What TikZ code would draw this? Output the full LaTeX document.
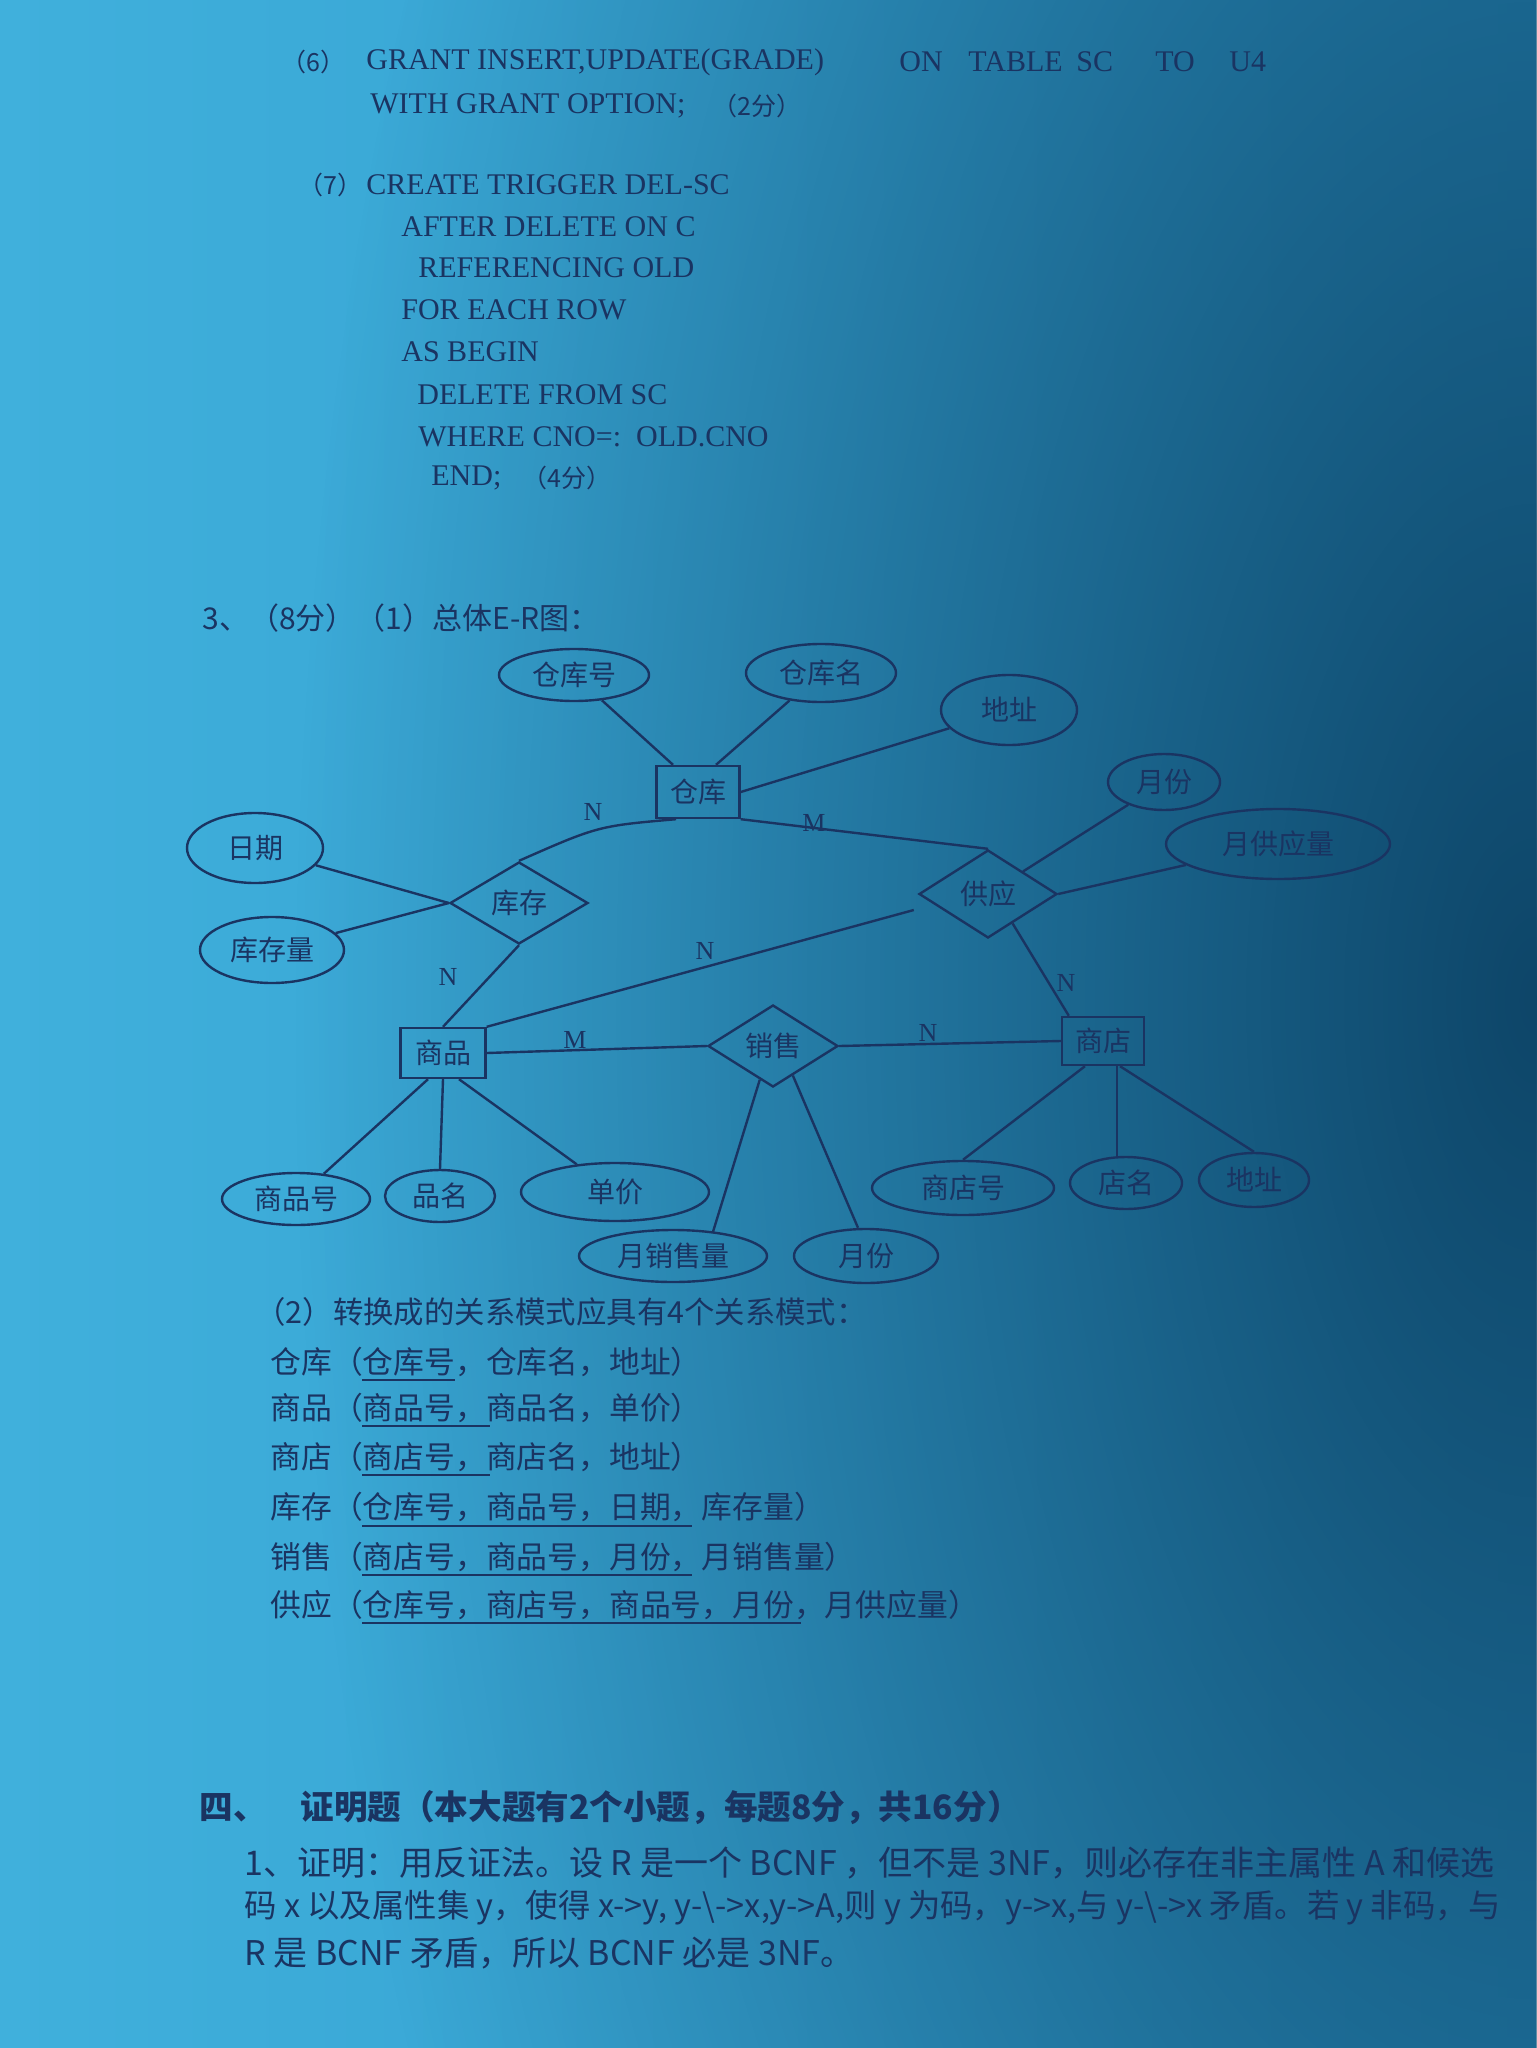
\documentclass[tikz,border=0pt]{standalone}
\usepackage{fontspec}
\setmainfont{Liberation Serif}
\newfontfamily\cjk{Noto Sans CJK SC}
\usetikzlibrary{shapes.geometric,calc,fadings}
\definecolor{bgA}{RGB}{64,176,220}
\definecolor{bgB}{RGB}{44,150,200}
\definecolor{bgC}{RGB}{14,70,105}
\definecolor{ink}{RGB}{26,52,98}
\tikzfading[name=fadeR, inner color=transparent!0, outer color=transparent!100]
\begin{document}
\begin{tikzpicture}[x=0.5pt,y=-0.5pt,
  code/.style={anchor=west, inner sep=0pt, text=ink, font=\fontsize{15}{15}\selectfont},
  cn/.style={anchor=west, inner sep=0pt, text=ink, font=\cjk\fontsize{15.4}{15.4}\selectfont},
  cnsmall/.style={anchor=west, inner sep=0pt, text=ink, font=\cjk\fontsize{12.5}{12.5}\selectfont},
  erlabel/.style={inner sep=0pt, text=ink, font=\cjk\fontsize{14}{14}\selectfont},
  attr/.style={erlabel, ellipse, draw=ink, line width=1.2pt},
  ent/.style={erlabel, rectangle, draw=ink, line width=1.2pt},
  rel/.style={erlabel, diamond, draw=ink, line width=1.2pt},
  card/.style={inner sep=0pt, text=ink, font=\fontsize{13}{13}\selectfont},
  link/.style={draw=ink, line width=1.2pt},
  keyline/.style={draw=ink, line width=1.3pt}]
\useasboundingbox (0,0) rectangle (1536,2048);
% background
\shade[left color=bgA, right color=bgB] (0,0) rectangle (1536,2048);
\fill[bgC, path fading=fadeR] (1536,1000) ellipse [x radius=620pt, y radius=1250pt];

% ---- code part ----
\node[cnsmall] (c1n) at (281,62) {（6）};
\node[code] (c1a) at (366,62) {GRANT INSERT,UPDATE(GRADE)};
\node[code] (c1b) at (899,62) {ON};
\node[code] (c1c) at (968,62) {TABLE};
\node[code] (c1d) at (1076,62) {SC};
\node[code] (c1e) at (1155,62) {TO};
\node[code] (c1f) at (1229,62) {U4};
\node[code] (c2) at (370,106) {WITH GRANT OPTION;};
\node[cnsmall] (c2n) at (712,106) {（2分）};
\node[cnsmall] (c3n) at (298,185) {（7）};
\node[code] (c3) at (366,185) {CREATE TRIGGER DEL-SC};
\node[code] (c4) at (401,227) {AFTER DELETE ON C};
\node[code] (c5) at (418,268) {REFERENCING OLD};
\node[code] (c6) at (401,310) {FOR EACH ROW};
\node[code] (c7) at (401,352) {AS BEGIN};
\node[code] (c8) at (417,395) {DELETE FROM SC};
\node[code] (c9) at (418,437) {WHERE CNO=:\ \ OLD.CNO};
\node[code] (c10) at (431,478) {END;};
\node[cnsmall] (c10n) at (522,478) {（4分）};

% ---- heading ----
\node[cn, font=\cjk\fontsize{15}{15}\selectfont] (h3) at (202,618) {3、（8分）（1）总体E-R图：};

% ---- E-R diagram ----
\node[ent, minimum width=41.5pt, minimum height=26pt] (ck) at (698,792) {仓库};
\node[ent, minimum width=42.5pt, minimum height=25pt] (sp) at (443,1053) {商品};
\node[ent, minimum width=41pt, minimum height=24pt] (sd) at (1103,1041) {商店};
\node[rel, minimum width=69pt, minimum height=41pt] (kc) at (519,903) {库存};
\node[rel, minimum width=69pt, minimum height=44pt] (gy) at (988,894) {供应};
\node[rel, minimum width=65pt, minimum height=41pt] (xs) at (773,1046) {销售};

\node[attr, minimum width=75pt, minimum height=26pt] (ckh) at (574,675) {仓库号};
\node[attr, minimum width=75pt, minimum height=29pt] (ckm) at (821,673) {仓库名};
\node[attr, minimum width=68pt, minimum height=35pt] (dz1) at (1009,710) {地址};
\node[attr, minimum width=56pt, minimum height=28pt] (yf1) at (1164,782) {月份};
\node[attr, minimum width=112pt, minimum height=35pt] (ygyl) at (1278,844) {月供应量};
\node[attr, minimum width=68pt, minimum height=35pt] (rq) at (255,848) {日期};
\node[attr, minimum width=72pt, minimum height=33pt] (kcl) at (272,950) {库存量};
\node[attr, minimum width=74pt, minimum height=26pt] (sph) at (296,1199) {商品号};
\node[attr, minimum width=55pt, minimum height=26pt] (pm) at (440,1196) {品名};
\node[attr, minimum width=94pt, minimum height=29pt] (dj) at (615,1192) {单价};
\node[attr, minimum width=91pt, minimum height=27pt] (sdh) at (963,1188) {商店号};
\node[attr, minimum width=56pt, minimum height=26pt] (dm) at (1126,1183) {店名};
\node[attr, minimum width=55pt, minimum height=27pt] (dz2) at (1254,1180) {地址};
\node[attr, minimum width=94pt, minimum height=26pt] (yxsl) at (673,1256) {月销售量};
\node[attr, minimum width=72pt, minimum height=27pt] (yf2) at (866,1256) {月份};

% connectors
\draw[link] (ckh) -- ($(ck.north)+(-25,0)$);
\draw[link] (ckm) -- ($(ck.north)+(18,0)$);
\draw[link] (ck.east) -- (dz1);
\draw[link] (kc.north) .. controls (598,826) .. ($(ck.south)+(-22,0)$);
\draw[link] (ck.south east) -- (gy.north);
\draw[link] (gy.north east) -- (yf1);
\draw[link] (gy.east) -- (ygyl);
\draw[link] (rq) -- (kc.west);
\draw[link] (kcl) -- (kc.west);
\draw[link] (kc.south) -- (sp.north);
\draw[link] ($(gy.west)+(-4,16)$) -- (sp.north east);
\draw[link] (sp.east) -- (xs.west);
\draw[link] (xs.east) -- (sd.west);
\draw[link] ($(gy.south)!0.35!(gy.east)$) -- ($(sd.north west)+(8,0)$);
\draw[link] ($(sp.south)+(-15,0)$) -- (sph);
\draw[link] (sp.south) -- (pm.north);
\draw[link] ($(sp.south)+(16,0)$) -- (dj);
\draw[link] ($(xs.south)!0.2!(xs.west)$) -- ($(yxsl.north)+(40,3)$);
\draw[link] ($(xs.south)!0.3!(xs.east)$) -- ($(yf2.north)+(-8,0)$);
\draw[link] ($(sd.south)+(-18,0)$) -- (sdh.north);
\draw[link] ($(sd.south)+(14,0)$) -- ($(dm.north)+(-9,0)$);
\draw[link] ($(sd.south)+(17,0)$) -- (dz2.north);

% cardinalities
\node[card] (n1) at (593,812) {N};
\node[card] (m1) at (814,823) {M};
\node[card] (n2) at (448,977) {N};
\node[card] (n3) at (705,951) {N};
\node[card] (m2) at (575,1040) {M};
\node[card] (n4) at (928,1033) {N};
\node[card] (n5) at (1066,983) {N};

% ---- relation schemas ----
\node[cn, font=\cjk\fontsize{15.2}{15.2}\selectfont] (r0) at (255,1312) {（2）转换成的关系模式应具有4个关系模式：};
\node[cn] (r1) at (270,1362) {仓库（仓库号，仓库名，地址）};
\node[cn] (r2) at (270,1408) {商品（商品号，商品名，单价）};
\node[cn] (r3) at (270,1457) {商店（商店号，商店名，地址）};
\node[cn] (r4) at (270,1507) {库存（仓库号，商品号，日期，库存量）};
\node[cn] (r5) at (270,1557) {销售（商店号，商品号，月份，月销售量）};
\node[cn] (r6) at (270,1605) {供应（仓库号，商店号，商品号，月份，月供应量）};
\draw[keyline] (362,1380) -- (455,1380);
\draw[keyline] (362,1426) -- (490,1426);
\draw[keyline] (362,1475) -- (490,1475);
\draw[keyline] (362,1526) -- (692,1526);
\draw[keyline] (362,1575) -- (692,1575);
\draw[keyline] (362,1623) -- (801,1623);

% ---- proof ----
\node[cn, font=\cjk\bfseries\fontsize{16.8}{16.8}\selectfont] (p0a) at (199,1808) {四、};
\node[cn, font=\cjk\bfseries\fontsize{16.8}{16.8}\selectfont] (p0b) at (300,1808) {证明题（本大题有2个小题，每题8分，共16分）};
\node[cn, font=\cjk\fontsize{17}{17}\selectfont] (p1) at (244,1863) {1、证明：用反证法。设 R 是一个 BCNF ，但不是 3NF，则必存在非主属性 A 和候选};
\node[cn, font=\cjk\fontsize{16.2}{16.2}\selectfont] (p2) at (244,1908) {码 x 以及属性集 y，使得 x->y, y-\textbackslash->x,y->A,则 y 为码，y->x,与 y-\textbackslash->x 矛盾。若 y 非码，与};
\node[cn, font=\cjk\fontsize{17}{17}\selectfont] (p3) at (244,1953) {R 是 BCNF 矛盾，所以 BCNF 必是 3NF。};
\end{tikzpicture}
\end{document}
